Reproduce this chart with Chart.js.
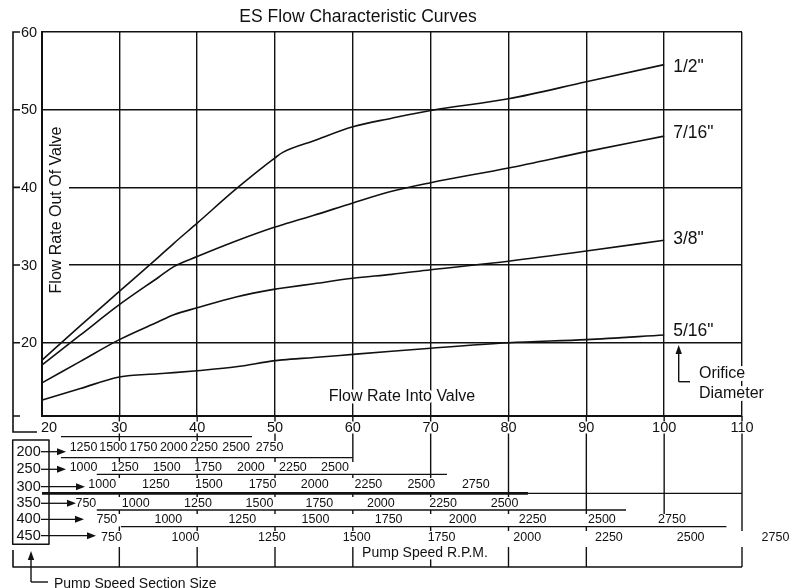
<!DOCTYPE html>
<html>
<head>
<meta charset="utf-8">
<title>ES Flow Characteristic Curves</title>
<script src="https://cdn.jsdelivr.net/npm/chart.js@4.4.1/dist/chart.umd.min.js"></script>
<style>
  html, body { margin: 0; padding: 0; background: #fff; }
  #chart { display: block; }
</style>
</head>
<body>
<canvas id="chart" width="799" height="588"></canvas>
<script>
// Flow rate into valve where the curves were read
const flowIn = [20, 25, 30, 35, 37, 40, 45, 50, 51, 55, 60, 65, 70, 80, 90, 100];

// Flow rate out of valve, one list per orifice diameter
const orifice1_2  = [17.7, 22.2, 26.6, 31.0, 32.8, 35.4, 39.8, 43.8, 44.5, 46.0, 47.8, 48.9, 49.9, 51.4, 53.6, 55.8];
const orifice7_16 = [17.1, 21.0, 24.9, 28.4, 29.8, 31.1, 33.1, 34.9, 35.2, 36.4, 38.0, 39.5, 40.6, 42.5, 44.6, 46.6];
const orifice3_8  = [14.8, 17.6, 20.4, 22.7, 23.6, 24.5, 25.9, 26.9, 27.05, 27.6, 28.3, 28.8, 29.4, 30.5, 31.8, 33.2];
const orifice5_16 = [12.6, 14.1, 15.6, 16.0, 16.15, 16.4, 16.9, 17.7, 17.8, 18.1, 18.5, 18.9, 19.3, 20.0, 20.4, 21.0];
const seriesNames = ['1/2"', '7/16"', '3/8"', '5/16"'];

// Axis ticks
const xTicks = [20, 30, 40, 50, 60, 70, 80, 90, 100, 110];
const yTicks = [20, 30, 40, 50, 60];
const yMin = 10.57;

// Pump speed scales: rpm labels and the flow (x value) each one sits at
const sectionSizes = [200, 250, 300, 350, 400, 450];
const rpm200 = [1250, 1500, 1750, 2000, 2250, 2500, 2750];
const flow200 = [25.4, 29.2, 33.1, 37.0, 40.9, 45.0, 49.3];
const rpm250 = [1000, 1250, 1500, 1750, 2000, 2250, 2500];
const flow250 = [25.4, 30.7, 36.1, 41.4, 46.9, 52.3, 57.7];
const rpm300 = [1000, 1250, 1500, 1750, 2000, 2250, 2500, 2750];
const flow300 = [27.8, 34.7, 41.5, 48.4, 55.1, 62.0, 68.8, 75.8];
const rpm350 = [750, 1000, 1250, 1500, 1750, 2000, 2250, 2500];
const flow350 = [25.7, 32.1, 40.1, 48.0, 55.7, 63.6, 71.6, 79.5];
const rpm400 = [750, 1000, 1250, 1500, 1750, 2000, 2250, 2500, 2750];
const flow400 = [28.4, 36.3, 45.8, 55.2, 64.6, 74.1, 83.1, 92.0, 101.0];
const rpm450 = [750, 1000, 1250, 1500, 1750, 2000, 2250, 2500, 2750];
const flow450 = [29.0, 38.5, 49.6, 60.5, 71.4, 82.4, 92.9, 103.4, 114.3];

const speedRows = [
    { rpm: rpm200, flow: flow200 },
    { rpm: rpm250, flow: flow250 },
    { rpm: rpm300, flow: flow300 },
    { rpm: rpm350, flow: flow350 },
    { rpm: rpm400, flow: flow400 },
    { rpm: rpm450, flow: flow450 }
];

// Layout of the drawing around the plot (pixels, or x values where noted)
const INK = '#111';
const FONT = '"Liberation Sans", Arial, Helvetica, sans-serif';
const layout = {
    frameX: 13,
    tableBottom: 567,
    rowText: [448, 467.7, 484.3, 503.3, 520, 537.7],
    rowLabel: [451.7, 469.3, 486.7, 503.3, 519.3, 535.7],
    arrowTip: [66, 66, 85, 76, 84, 96],
    // [y, from x value, to x value, width]
    rowLines: [
        [436.7, 22.5, 47.05, 1.3],
        [457.7, 22.5, 60, 1.3],
        [474.3, 27.1, 72.1, 1.3],
        [493.3, 20.06, 82.5, 2.8],
        [493.3, 82.5, 110, 1.3],
        [510, 27.1, 95.1, 1.3],
        [526.7, 30.2, 108, 1.3]
    ],
    // white strips behind each row: [top, bottom, from x value, to x value]
    bands: [
        [441, 457, 22.6, 52],
        [462, 474, 22.6, 61],
        [478, 492.5, 26.2, 78.9],
        [497, 510, 24.2, 82.8],
        [514, 526.5, 26.7, 104.6],
        [531, 547, 27.3, 116.2]
    ],
    lineEnd: { 100: 527 },
    labelDy: [3, -3, -1, -4]
};

function arrow(ctx, x1, y1, x2, y2, head, half) {
    const a = Math.atan2(y2 - y1, x2 - x1);
    const bx = x2 - head * Math.cos(a), by = y2 - head * Math.sin(a);
    ctx.beginPath();
    ctx.moveTo(x1, y1);
    ctx.lineTo(bx, by);
    ctx.stroke();
    ctx.beginPath();
    ctx.moveTo(x2, y2);
    ctx.lineTo(bx + half * Math.sin(a), by - half * Math.cos(a));
    ctx.lineTo(bx - half * Math.sin(a), by + half * Math.cos(a));
    ctx.closePath();
    ctx.fill();
}

function text(ctx, str, x, y, size, align, knock) {
    ctx.font = size + 'px ' + FONT;
    ctx.textAlign = align || 'left';
    ctx.textBaseline = 'middle';
    if (knock) {
        ctx.strokeStyle = '#fff';
        ctx.lineWidth = knock;
        ctx.lineJoin = 'round';
        ctx.strokeText(str, x, y);
    }
    ctx.fillStyle = INK;
    ctx.fillText(str, x, y);
}

const decorPlugin = {
    id: 'esDecor',
    afterDraw(chart) {
        const { ctx, chartArea: ca, scales } = chart;
        const X = v => scales.x.getPixelForValue(v);
        const Y = v => scales.y.getPixelForValue(v);
        const fx = layout.frameX;
        ctx.save();
        ctx.strokeStyle = INK;
        ctx.fillStyle = INK;

        // title
        text(ctx, 'ES Flow Characteristic Curves', 358, 17.5, 17.5, 'center');

        // outer left rule with y ticks
        ctx.lineWidth = 1.6;
        ctx.beginPath();
        ctx.moveTo(fx + 6, ca.top);
        ctx.lineTo(fx, ca.top);
        ctx.lineTo(fx, 432);
        ctx.lineTo(37, 432);
        ctx.moveTo(fx, ca.bottom);
        ctx.lineTo(fx + 7, ca.bottom);
        yTicks.forEach(t => {
            ctx.moveTo(fx, Y(t));
            ctx.lineTo(fx + 7, Y(t));
        });
        ctx.stroke();
        yTicks.forEach(t => text(ctx, String(t), 21, Y(t) + 0.5, 14.5, 'left'));

        // y axis title on a white strip
        ctx.fillStyle = '#fff';
        ctx.fillRect(ca.left + 1.5, 124, 26, 172);
        ctx.save();
        ctx.translate(57, 210);
        ctx.rotate(-Math.PI / 2);
        text(ctx, 'Flow Rate Out Of Valve', 0, 0, 16, 'center');
        ctx.restore();

        // x axis title inside the plot
        text(ctx, 'Flow Rate Into Valve', 402, 397, 16, 'center', 5);

        // curve labels
        const sets = chart.data.datasets;
        sets.forEach((ds, i) => {
            const last = ds.data[ds.data.length - 1];
            text(ctx, seriesNames[i], X(last.x) + 9, Y(last.y) + layout.labelDy[i], 17.5, 'left');
        });

        // orifice diameter note
        ctx.strokeStyle = INK;
        ctx.fillStyle = INK;
        ctx.lineWidth = 1.4;
        arrow(ctx, 678.7, 381.7, 678.7, 345, 9, 3.2);
        ctx.beginPath();
        ctx.moveTo(678.7, 381.7);
        ctx.lineTo(690, 381.7);
        ctx.stroke();
        text(ctx, 'Orifice', 699, 373.3, 16, 'left', 6);
        text(ctx, 'Diameter', 699, 393.3, 16, 'left', 6);

        // grid lines carried down through the pump speed table
        ctx.strokeStyle = INK;
        ctx.lineWidth = 1.4;
        xTicks.slice(1).forEach(t => {
            const end = layout.lineEnd[t] || layout.tableBottom;
            ctx.beginPath();
            ctx.moveTo(X(t), ca.bottom);
            ctx.lineTo(X(t), end);
            ctx.stroke();
        });

        // x tick labels
        xTicks.forEach((t, i) => {
            const px = i === 0 ? X(t) + 7.5 : X(t);
            ctx.font = '14.5px ' + FONT;
            const w = ctx.measureText(String(t)).width;
            ctx.fillStyle = '#fff';
            ctx.fillRect(px - w / 2 - 1, 421.5, w + 2, 12);
            text(ctx, String(t), px, 428, 14.5, 'center');
        });

        // white strips behind each speed row
        ctx.fillStyle = '#fff';
        layout.bands.forEach(b => {
            ctx.fillRect(X(b[2]), b[0], X(b[3]) - X(b[2]), b[1] - b[0]);
        });

        // row rules
        ctx.strokeStyle = INK;
        layout.rowLines.forEach(r => {
            ctx.lineWidth = r[3];
            ctx.beginPath();
            ctx.moveTo(X(r[1]), r[0]);
            ctx.lineTo(X(r[2]), r[0]);
            ctx.stroke();
        });
        ctx.lineWidth = 1.6;
        ctx.beginPath();
        ctx.moveTo(fx, 550);
        ctx.lineTo(fx, layout.tableBottom);
        ctx.lineTo(X(110), layout.tableBottom);
        ctx.stroke();

        // rpm labels
        speedRows.forEach((row, r) => {
            row.rpm.forEach((rpm, k) => {
                text(ctx, String(rpm), X(row.flow[k]), layout.rowText[r], 12.5, 'center');
            });
        });

        // section size box and arrows
        ctx.strokeStyle = INK;
        ctx.fillStyle = INK;
        ctx.lineWidth = 1.5;
        ctx.strokeRect(12.7, 440, 36.3, 104.3);
        sectionSizes.forEach((s, r) => {
            text(ctx, String(s), 16.5, layout.rowLabel[r], 14.5, 'left');
            ctx.strokeStyle = INK;
            ctx.fillStyle = INK;
            ctx.lineWidth = 1.3;
            arrow(ctx, 41, layout.rowLabel[r], layout.arrowTip[r], layout.rowLabel[r], 9, 3.5);
        });

        // axis titles below the table
        text(ctx, 'Pump Speed R.P.M.', 425, 553.3, 14, 'center', 5);
        ctx.strokeStyle = INK;
        ctx.fillStyle = INK;
        ctx.lineWidth = 1.4;
        arrow(ctx, 31, 582, 31, 551, 9, 3.2);
        ctx.beginPath();
        ctx.moveTo(31, 582);
        ctx.lineTo(48, 582);
        ctx.stroke();
        text(ctx, 'Pump Speed Section Size', 54, 584, 14, 'left');

        ctx.restore();
    }
};

const curves = [orifice1_2, orifice7_16, orifice3_8, orifice5_16];

new Chart(document.getElementById('chart'), {
    type: 'scatter',
    data: {
        datasets: curves.map((vals, i) => ({
            label: seriesNames[i],
            data: flowIn.map((x, k) => ({ x: x, y: vals[k] })),
            showLine: true,
            borderColor: INK,
            borderWidth: 1.6,
            pointRadius: 0,
            cubicInterpolationMode: 'monotone'
        }))
    },
    options: {
        responsive: false,
        devicePixelRatio: 1,
        animation: false,
        events: [],
        layout: { padding: { left: 41.5, top: 32, right: 57, bottom: 172 } },
        plugins: {
            legend: { display: false },
            tooltip: { enabled: false },
            title: { display: false }
        },
        scales: {
            x: {
                type: 'linear',
                min: 20,
                max: 110,
                ticks: { display: false, stepSize: 10 },
                grid: { color: INK, lineWidth: 1.4, drawTicks: false },
                border: { color: INK, width: 2 },
                afterFit: s => { s.height = 0; }
            },
            y: {
                type: 'linear',
                min: yMin,
                max: 60,
                ticks: { display: false, stepSize: 10 },
                grid: { color: INK, lineWidth: 1.4, drawTicks: false },
                border: { color: INK, width: 2 },
                afterFit: s => { s.width = 0; }
            }
        }
    },
    plugins: [decorPlugin]
});
</script>
</body>
</html>
